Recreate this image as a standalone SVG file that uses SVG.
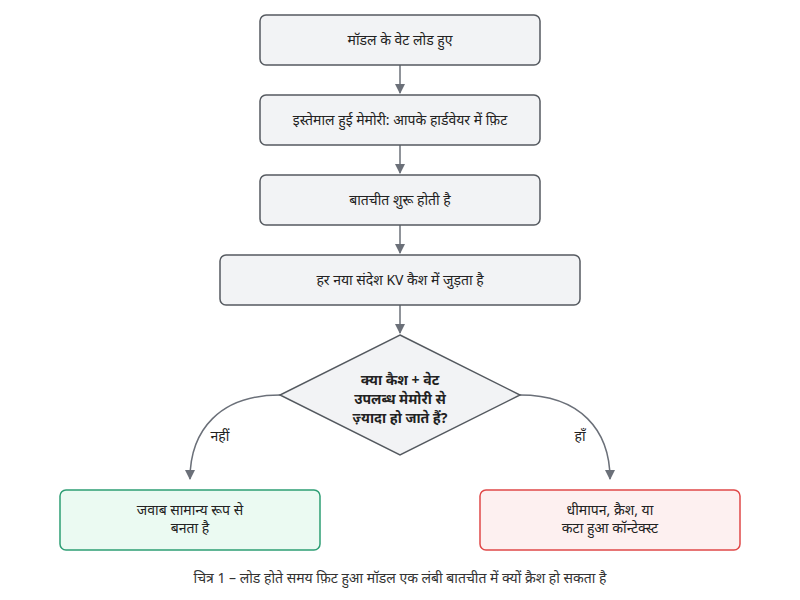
<svg xmlns="http://www.w3.org/2000/svg" width="800" height="600" viewBox="0 0 800 600">
<style>
text{font-family:"Noto Sans","Noto Sans Devanagari","DejaVu Sans",sans-serif;font-size:14px;fill:#222;text-anchor:middle}
.n{fill:#f2f3f5;stroke:#555a60;stroke-width:1.5}
.c{fill:none;stroke:#6b7079;stroke-width:1.5}
.b{font-weight:bold;font-size:14px}
</style>
<defs><marker id="a" viewBox="0 0 10 10" refX="9" refY="5" markerWidth="7" markerHeight="7" orient="auto"><path d="M0,0L10,5L0,10z" fill="#6b7079"/></marker></defs>
<rect width="800" height="600" fill="#fff"/>
<g id="connectors">
<path class="c" d="M400,65V93" marker-end="url(#a)"/>
<path class="c" d="M400,145V173" marker-end="url(#a)"/>
<path class="c" d="M400,225V253" marker-end="url(#a)"/>
<path class="c" d="M400,305V333" marker-end="url(#a)"/>
<path class="c" d="M280,395C220,395 190,430 190,479" marker-end="url(#a)"/>
<path class="c" d="M520,395C580,395 610,430 610,479" marker-end="url(#a)"/>
<text x="220" y="441">नहीं</text>
<text x="580" y="441">हाँ</text>
</g>
<g id="n1"><rect class="n" x="260" y="15" width="280" height="50" rx="6"/><text x="400" y="45">मॉडल के वेट लोड हुए</text></g>
<g id="n2"><rect class="n" x="260" y="95" width="280" height="50" rx="6"/><text x="400" y="125">इस्तेमाल हुई मेमोरी: आपके हार्डवेयर में फ़िट</text></g>
<g id="n3"><rect class="n" x="260" y="175" width="280" height="50" rx="6"/><text x="400" y="205">बातचीत शुरू होती है</text></g>
<g id="n4"><rect class="n" x="220" y="255" width="360" height="50" rx="6"/><text x="400" y="285">हर नया संदेश KV कैश में जुड़ता है</text></g>
<g id="d"><path class="n" d="M400,335L520,395L400,455L280,395z"/>
<text class="b" x="400" y="385">क्या कैश + वेट</text>
<text class="b" x="400" y="404">उपलब्ध मेमोरी से</text>
<text class="b" x="400" y="423">ज़्यादा हो जाते हैं?</text></g>
<g id="no"><rect x="60" y="490" width="260" height="60" rx="6" fill="#ebfaf2" stroke="#2e9e74" stroke-width="1.5"/><text x="190" y="515">जवाब सामान्य रूप से</text><text x="190" y="533">बनता है</text></g>
<g id="yes"><rect x="480" y="490" width="260" height="60" rx="6" fill="#fdf0f0" stroke="#e04848" stroke-width="1.5"/><text x="610" y="515">धीमापन, क्रैश, या</text><text x="610" y="533">कटा हुआ कॉन्टेक्स्ट</text></g>
<text x="400" y="583" style="font-size:14px;fill:#333">चित्र 1 – लोड होते समय फ़िट हुआ मॉडल एक लंबी बातचीत में क्यों क्रैश हो सकता है</text>
</svg>
